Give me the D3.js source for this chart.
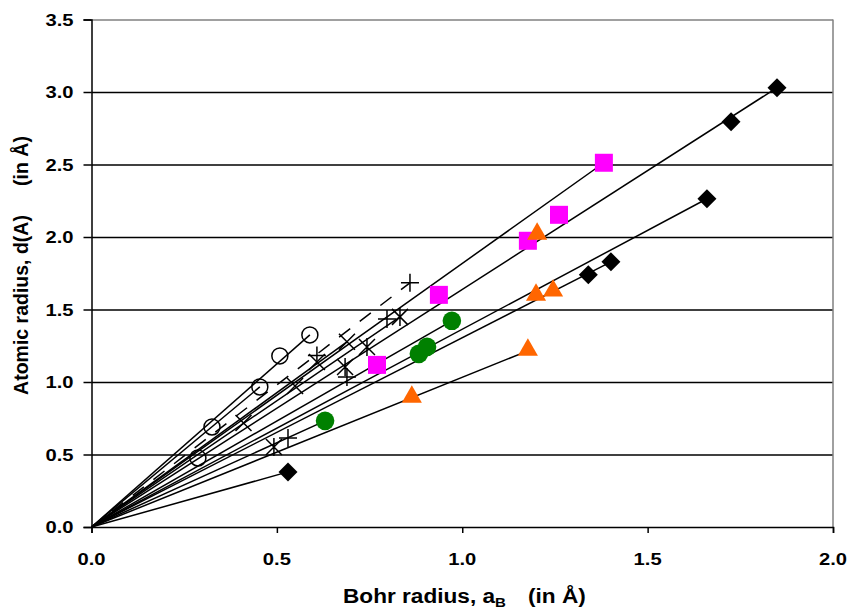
<!DOCTYPE html>
<html>
<head>
<meta charset="utf-8">
<script src="https://d3js.org/d3.v7.min.js"></script>
<style>
  body { margin: 0; background: #fff; }
  text { font-family: "Liberation Sans", Arial, sans-serif; font-weight: bold; fill: #000; }
</style>
</head>
<body>
<div id="chart"></div>
<script>
// tick labels
const xTicks = [0, 0.5, 1.0, 1.5, 2.0];
const yTicks = [0, 0.5, 1.0, 1.5, 2.0, 2.5, 3.0, 3.5];

// marker series, [Bohr radius, atomic radius]
const diamonds = [[0.530,0.380],[1.340,1.739],[1.401,1.829],[1.660,2.264],[1.725,2.795],[1.849,3.030]];
const squares = [[0.770,1.118],[0.937,1.601],[1.177,1.974],[1.261,2.153],[1.382,2.512]];
const triangles = [[0.864,0.890],[1.177,1.215],[1.199,1.594],[1.245,1.622],[1.202,2.015]];
const greenDots = [[0.630,0.732],[0.883,1.194],[0.905,1.242],[0.972,1.422]];
const openCircles = [[0.287,0.476],[0.325,0.690],[0.454,0.966],[0.508,1.180],[0.589,1.325]];
const crosses = [[0.410,0.717],[0.549,0.973],[0.689,1.277],[0.608,1.138]];
const stars = [[0.492,0.552],[0.684,1.104],[0.743,1.242],[0.832,1.449]];
const pluses = [[0.530,0.614],[0.608,1.183],[0.689,1.035],[0.797,1.435],[0.859,1.684]];

// fit lines through origin, end points
const fitEnds = [[0.530,0.380],[1.177,1.215],[0.630,0.732],[1.401,1.829],[1.660,2.264],[0.972,1.422],
                 [1.849,3.030],[1.382,2.512],[0.832,1.449],[0.689,1.277],[0.589,1.325],[0.454,0.966]];
const dashedEnds = [[0.859,1.684]];

var width = 851, height = 609;
var sx = 1.16; // horizontal stretch of the text in the picture

var x = d3.scaleLinear().domain([0, 2]).range([91.5, 833]);
var y = d3.scaleLinear().domain([0, 3.5]).range([527, 19.5]);
var fmt = d3.format(".1f");

var svg = d3.select("#chart").append("svg")
  .attr("width", width).attr("height", height);

// grid lines
svg.append("g")
  .attr("transform", "translate(91.5,0)")
  .call(d3.axisLeft(y).tickValues(yTicks.slice(1)).tickSize(-(833 - 91.5)).tickFormat(""))
  .call(g => g.select(".domain").remove())
  .call(g => g.selectAll("line").attr("stroke", d => d == 3.5 ? "#808080" : "#000").attr("stroke-width", 1.5));

// right border
svg.append("line")
  .attr("x1", x(2)).attr("x2", x(2)).attr("y1", y(0)).attr("y2", y(3.5))
  .attr("stroke", "#808080").attr("stroke-width", 1.5);

// y axis (ticks only, labels drawn below)
var yAxis = svg.append("g")
  .attr("transform", "translate(91.5,0)")
  .call(d3.axisLeft(y).tickValues(yTicks).tickSize(8).tickFormat(""));
yAxis.select(".domain").attr("stroke", "#000").attr("stroke-width", 1.5);
yAxis.selectAll("line").attr("stroke", "#000").attr("stroke-width", 1.5);

svg.append("g").selectAll("text").data(yTicks).join("text")
  .attr("transform", d => "translate(73.5," + (y(d) + 6) + ") scale(" + sx + ",1)")
  .attr("text-anchor", "end").style("font-size", "17.4px")
  .text(fmt);

// x axis
var xAxis = svg.append("g")
  .attr("transform", "translate(0,527)")
  .call(d3.axisBottom(x).tickValues(xTicks).tickSize(6).tickFormat(""));
xAxis.select(".domain").attr("stroke", "#000").attr("stroke-width", 1.5);
xAxis.selectAll("line").attr("stroke", "#000").attr("stroke-width", 1.5);

svg.append("g").selectAll("text").data(xTicks).join("text")
  .attr("transform", d => "translate(" + x(d) + ",565) scale(" + sx + ",1)")
  .attr("text-anchor", "middle").style("font-size", "17.4px")
  .text(fmt);

// fit lines
var line = d3.line().x(d => x(d[0])).y(d => y(d[1]));
svg.append("g").selectAll("path")
  .data(fitEnds).join("path")
  .attr("d", d => line([[0, 0], d]))
  .attr("fill", "none").attr("stroke", "#000").attr("stroke-width", 1.5);
svg.append("g").selectAll("path")
  .data(dashedEnds).join("path")
  .attr("d", d => line([[0, 0], d]))
  .attr("fill", "none").attr("stroke", "#000").attr("stroke-width", 1.5)
  .attr("stroke-dasharray", "14,12");

// markers
function place(d) { return "translate(" + x(d[0]) + "," + y(d[1]) + ")"; }

svg.append("g").selectAll("path").data(diamonds).join("path")
  .attr("d", d3.symbol(d3.symbolSquare, 180))
  .attr("transform", d => place(d) + " rotate(45)")
  .attr("fill", "#000");

svg.append("g").selectAll("path").data(squares).join("path")
  .attr("d", d3.symbol(d3.symbolSquare, 324))
  .attr("transform", place)
  .attr("fill", "#ff00ff");

svg.append("g").selectAll("path").data(triangles).join("path")
  .attr("d", d3.symbol(d3.symbolTriangle, 175))
  .attr("transform", d => place(d) + " translate(0,-1)")
  .attr("fill", "#ff6600");

svg.append("g").selectAll("circle").data(greenDots).join("circle")
  .attr("cx", d => x(d[0])).attr("cy", d => y(d[1])).attr("r", 9.3)
  .attr("fill", "#008000");

svg.append("g").selectAll("circle").data(openCircles).join("circle")
  .attr("cx", d => x(d[0])).attr("cy", d => y(d[1])).attr("r", 8)
  .attr("fill", "none").attr("stroke", "#000").attr("stroke-width", 1.5);

var h = 8;
svg.append("g").selectAll("path").data(crosses).join("path")
  .attr("d", "M" + -h + "," + -h + "L" + h + "," + h + "M" + -h + "," + h + "L" + h + "," + -h)
  .attr("transform", place)
  .attr("stroke", "#000").attr("stroke-width", 1.5).attr("fill", "none");

svg.append("g").selectAll("path").data(stars).join("path")
  .attr("d", "M" + -h + "," + -h + "L" + h + "," + h + "M" + -h + "," + h + "L" + h + "," + -h + "M0," + -(h + 1) + "L0," + (h + 1))
  .attr("transform", place)
  .attr("stroke", "#000").attr("stroke-width", 1.5).attr("fill", "none");

var p = 9;
svg.append("g").selectAll("path").data(pluses).join("path")
  .attr("d", "M" + -p + ",0L" + p + ",0M0," + -p + "L0," + p)
  .attr("transform", place)
  .attr("stroke", "#000").attr("stroke-width", 1.5).attr("fill", "none");

// axis titles
var xt = svg.append("g").attr("transform", "translate(343,603) scale(" + sx + ",1)");
var t1 = xt.append("text").style("font-size", "19.5px").text("Bohr radius, a");
t1.append("tspan").attr("dy", 4).style("font-size", "13px").text("B");
xt.append("text").attr("x", (528 - 343) / sx).style("font-size", "19.5px").text("(in Å)");

svg.append("text")
  .attr("transform", "translate(28,305) rotate(-90)")
  .attr("text-anchor", "middle").style("font-size", "19.5px")
  .text("Atomic radius, d(A)");
svg.append("text")
  .attr("transform", "translate(28,161) rotate(-90)")
  .attr("text-anchor", "middle").style("font-size", "19.5px")
  .text("(in Å)");
</script>
</body>
</html>
